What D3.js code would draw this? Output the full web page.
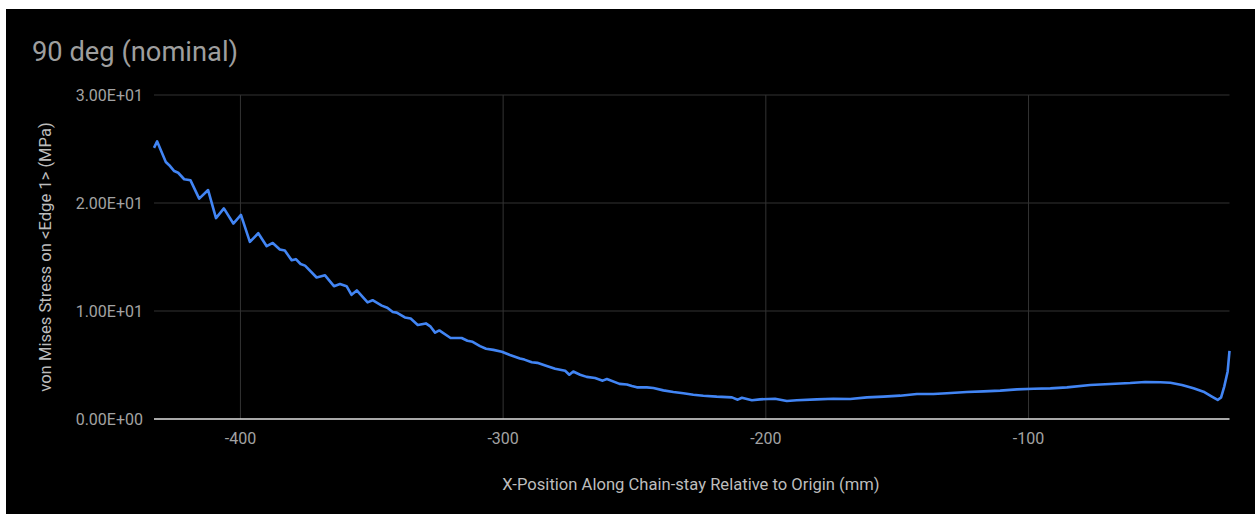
<!DOCTYPE html>
<html lang="en">
<head>
  <meta charset="UTF-8" />
  <title>90 deg (nominal)</title>
  <script src="https://d3js.org/d3.v7.min.js"></script>
  <style>
    body {
      margin: 0;
      background-color: white;
      font-family: Roboto, sans-serif;
    }
    svg {
      display: block;
    }
    .grid line {
      stroke: #333;
      stroke-width: 1px;
    }
    .tick-label {
      fill: #a3a3a3;
      font-size: 16px;
    }
    .axis-title {
      fill: #bdbdbd;
      font-size: 16.6px;
    }
  </style>
</head>
<body>
  <svg width="1255" height="514"></svg>

  <script>
    // position along chain-stay (mm)
    const xPos = [
      -432.9, -431.7, -428.4, -427.1, -425.2, -423.7, -421.4, -419.0, -415.7, -412.3,
      -409.3, -406.3, -402.7, -399.8, -396.4, -393.2, -390.0, -387.7, -385.0, -383.1,
      -380.5, -378.9, -377.1, -375.4, -371.0, -367.8, -364.4, -362.1, -359.6, -357.7,
      -355.7, -351.6, -349.7, -346.2, -344.1, -342.0, -340.5, -337.4, -335.2, -332.5,
      -329.4, -327.6, -325.9, -324.3, -320.0, -315.8, -313.6, -311.6, -308.8, -306.5,
      -303.7, -300.5, -297.4, -293.6, -291.9, -289.1, -287.0, -283.4, -280.2, -276.4,
      -274.8, -273.3, -270.7, -268.2, -265.0, -262.1, -260.5, -255.7, -252.9, -251.0,
      -249.1, -245.3, -242.8, -239.0, -235.2, -231.4, -227.6, -223.8, -218.7, -212.9,
      -210.7, -209.1, -205.3, -202.2, -196.5, -192.0, -188.2, -180.6, -174.3, -167.9,
      -161.5, -155.2, -148.9, -142.5, -136.2, -131.1, -123.5, -117.1, -110.8, -104.4,
      -98.1, -91.7, -85.4, -76.5, -68.9, -61.3, -55.6, -49.8, -46.0, -41.6,
      -37.2, -33.4, -30.2, -28.0, -26.7, -25.5, -24.2, -23.5
    ];
    // von Mises stress (MPa)
    const stress = [
      25.1, 25.7, 23.8, 23.5, 22.96, 22.8, 22.2, 22.1, 20.4, 21.2,
      18.6, 19.5, 18.1, 18.9, 16.4, 17.2, 16.0, 16.3, 15.7, 15.6,
      14.7, 14.8, 14.35, 14.2, 13.1, 13.3, 12.3, 12.5, 12.3, 11.5,
      11.9, 10.8, 11.0, 10.5, 10.3, 9.9, 9.85, 9.4, 9.3, 8.7,
      8.85, 8.55, 8.0, 8.2, 7.5, 7.5, 7.25, 7.15, 6.75, 6.5,
      6.4, 6.23, 5.93, 5.6, 5.5, 5.25, 5.2, 4.9, 4.65, 4.47,
      4.1, 4.4, 4.1, 3.9, 3.8, 3.55, 3.7, 3.25, 3.2, 3.05,
      2.93, 2.93, 2.87, 2.65, 2.5, 2.38, 2.25, 2.16, 2.07, 2.0,
      1.79, 1.97, 1.73, 1.82, 1.88, 1.67, 1.73, 1.82, 1.88, 1.85,
      2.0, 2.07, 2.16, 2.31, 2.31, 2.38, 2.5, 2.56, 2.63, 2.74,
      2.8, 2.84, 2.93, 3.15, 3.24, 3.33, 3.43, 3.4, 3.36, 3.15,
      2.84, 2.53, 2.07, 1.76, 2.0, 3.0, 4.4, 6.3
    ];

    const xTicks = [-400, -300, -200, -100];
    const yTicks = [0, 10, 20, 30];
    const yTickLabels = ["0.00E+00", "1.00E+01", "2.00E+01", "3.00E+01"];

    const chartTitle = "90 deg (nominal)";
    const xTitle = "X-Position Along Chain-stay Relative to Origin (mm)";
    const yTitle = "von Mises Stress on <Edge 1> (MPa)";

    const margin = { left: 154, right: 1229.5, top: 95, bottom: 419 };

    const svg = d3.select("svg");

    // black card
    svg.append("rect")
      .attr("x", 6)
      .attr("y", 9)
      .attr("width", 1255 - 6)
      .attr("height", 514 - 9)
      .attr("fill", "black");

    const x = d3.scaleLinear()
      .domain(d3.extent(xPos))
      .range([margin.left, margin.right]);

    const y = d3.scaleLinear()
      .domain([0, 30])
      .range([margin.bottom, margin.top]);

    // gridlines
    const grid = svg.append("g").attr("class", "grid");
    grid.selectAll("line.h")
      .data(yTicks.filter(d => d !== 0))
      .join("line")
      .attr("class", "h")
      .attr("x1", margin.left)
      .attr("x2", margin.right)
      .attr("y1", d => y(d))
      .attr("y2", d => y(d));
    grid.selectAll("line.v")
      .data(xTicks)
      .join("line")
      .attr("class", "v")
      .attr("x1", d => x(d))
      .attr("x2", d => x(d))
      .attr("y1", margin.top)
      .attr("y2", margin.bottom);

    // baseline
    svg.append("line")
      .attr("x1", margin.left)
      .attr("x2", margin.right)
      .attr("y1", y(0))
      .attr("y2", y(0))
      .attr("stroke", "#e0e0e0")
      .attr("stroke-width", 1.5);

    // tick labels
    svg.append("g")
      .selectAll("text")
      .data(yTicks)
      .join("text")
      .attr("class", "tick-label")
      .attr("x", 143)
      .attr("y", d => y(d) + 5.5)
      .attr("text-anchor", "end")
      .text((d, i) => yTickLabels[i]);

    svg.append("g")
      .selectAll("text")
      .data(xTicks)
      .join("text")
      .attr("class", "tick-label")
      .attr("x", d => x(d))
      .attr("y", 444)
      .attr("text-anchor", "middle")
      .text(d => d);

    // the series
    const line = d3.line()
      .x((d, i) => x(xPos[i]))
      .y(d => y(d));

    svg.append("path")
      .datum(stress)
      .attr("fill", "none")
      .attr("stroke", "#4285f4")
      .attr("stroke-width", 2.6)
      .attr("stroke-linejoin", "round")
      .attr("d", line);

    // titles
    svg.append("text")
      .attr("x", 32)
      .attr("y", 61)
      .attr("fill", "#9e9e9e")
      .attr("font-size", 27.3)
      .text(chartTitle);

    svg.append("text")
      .attr("class", "axis-title")
      .attr("x", 691)
      .attr("y", 490)
      .attr("text-anchor", "middle")
      .text(xTitle);

    svg.append("text")
      .attr("class", "axis-title")
      .attr("transform", "translate(51,257) rotate(-90)")
      .attr("text-anchor", "middle")
      .text(yTitle);
  </script>
</body>
</html>
